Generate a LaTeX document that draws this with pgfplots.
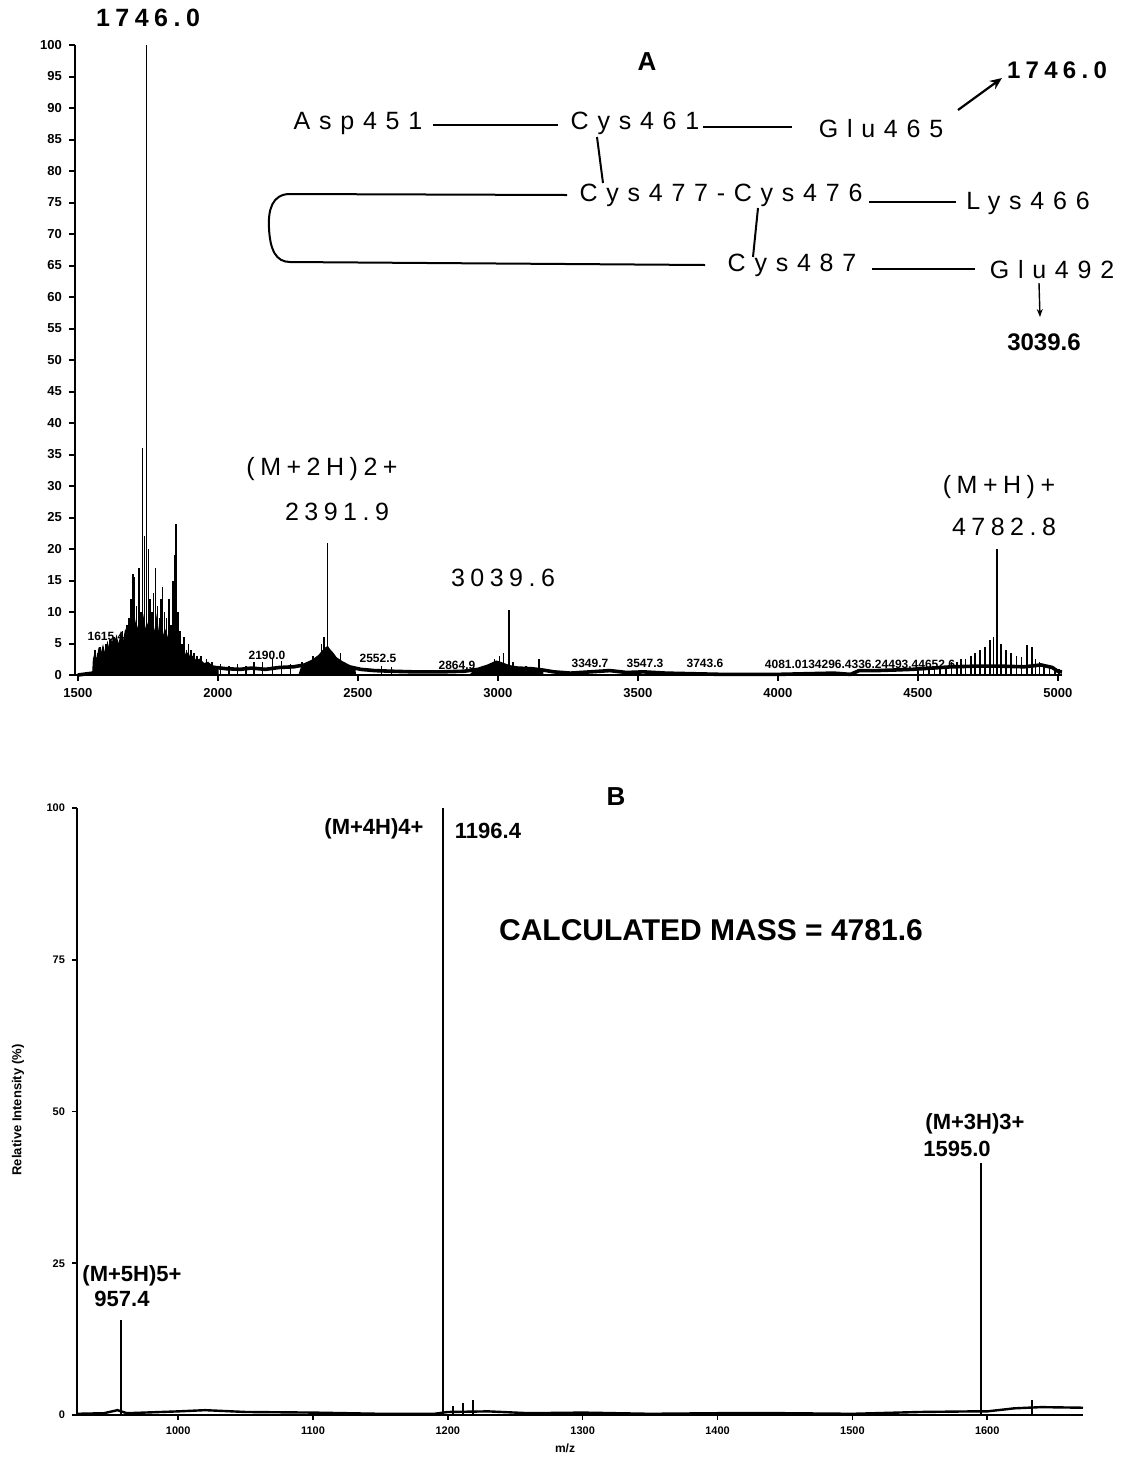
\documentclass[border=0pt]{standalone}
\usepackage{fontspec}
\setmainfont{Liberation Sans}
\newfontfamily\spaced[LetterSpace=35]{Liberation Sans}
\newfontfamily\spacedm[LetterSpace=22]{Liberation Sans}
\usepackage{pgfplots}
\pgfplotsset{compat=1.18}
\usetikzlibrary{arrows.meta}

\begin{document}
\begin{tikzpicture}
\useasboundingbox (0pt,0pt) rectangle (561.5pt,-729pt);

% ---------------- Panel A ----------------
\begin{axis}[
  at={(37.5pt,-337.5pt)}, anchor=south west,
  scale only axis, width=493.5pt, height=315pt,
  xmin=1490, xmax=5015, ymin=0, ymax=100,
  axis x line=bottom, axis y line=left,
  axis line style={-, line width=1.4pt},
  xtick={1500,2000,...,5000}, ytick={0,5,...,100},
  tick align=outside, major tick length=3pt,
  tick style={line width=1pt, black},
  ticklabel style={font=\fontsize{6.5}{7}\selectfont\bfseries},
  /pgf/number format/assume math mode=true,
  /pgf/number format/1000 sep={},
  clip=false,
]
\addplot[fill=black, draw=black, line width=0.6pt] coordinates {
(1553,0) (1556,2.5) (1562,3.5) (1568,2) (1575,4) (1582,3) (1590,4.5) (1598,3)
(1606,5) (1614,3.5) (1622,5.5) (1630,4) (1638,6) (1646,4.5) (1654,6.5) (1662,5)
(1670,7) (1678,6) (1686,8) (1694,6) (1702,9) (1710,7) (1718,8) (1726,6) (1734,9)
(1742,7) (1750,8) (1758,6) (1766,8) (1774,6.5) (1782,9) (1790,6) (1798,8) (1806,6)
(1814,7) (1822,5.5) (1830,7) (1838,6) (1846,8) (1854,5) (1862,4.5) (1870,3.5)
(1878,4) (1886,3) (1894,3.5) (1902,2.5) (1912,3) (1922,2.2) (1935,2.5) (1950,1.8)
(1965,2) (1980,1.4) (2000,1.2) (2001,0)
} \closedcycle;
\addplot[fill=black, draw=black, line width=0.6pt] coordinates {
(2290,0) (2300,1.4) (2320,1.8) (2340,2.3) (2355,2.8) (2365,3.3) (2375,3.8) (2385,4.3)
(2392,4.5) (2400,4) (2410,3.4) (2420,2.8) (2435,2.2) (2450,1.7) (2470,1.3) (2490,1) (2491,0)
} \closedcycle;
\addplot[fill=black, draw=black, line width=0.6pt] coordinates {
(2900,0) (2920,0.8) (2945,1.1) (2965,1.5) (2985,1.9) (3000,2.1) (3015,1.8) (3035,1.4)
(3060,1.2) (3090,1.1) (3130,1) (3160,0.8) (3161,0)
} \closedcycle;
\addplot[black, line width=1.8pt, mark=none] coordinates {
(1500,0) (1553,0.3) (1600,1.5) (1800,2) (1950,1.5) (1990,1.2) (2030,1) (2080,0.9)
(2120,1.1) (2170,0.9) (2220,1.2) (2270,1.3) (2310,1.6) (2340,2.2) (2365,3) (2380,3.8)
(2392,4) (2405,3.5) (2420,2.6) (2440,2) (2470,1.3) (2510,0.9) (2560,0.7) (2620,0.6)
(2700,0.5) (2800,0.5) (2880,0.6) (2930,0.9) (2965,1.4) (2995,2) (3010,1.8) (3040,1.3)
(3070,1.1) (3120,1) (3160,0.8) (3200,0.5) (3260,0.3) (3330,0.5) (3400,0.7) (3460,0.4)
(3520,0.5) (3600,0.3) (3700,0.2) (3800,0.1) (3900,0.1) (4000,0.1) (4100,0.2) (4200,0.3)
(4260,0.1) (4290,0.7) (4350,0.7) (4420,0.8) (4480,0.9) (4550,1.1) (4620,1.3) (4700,1.4)
(4800,1.4) (4880,1.3) (4940,1.6) (4980,1.2) (5000,0.6) (5015,0.5)
};
\addplot[ycomb, black, line width=0.8pt, mark=none] coordinates {
(1562,4) (1570,3.5) (1580,4.5) (1590,3.5) (1600,5) (1608,4) (1615,5.5) (1622,4)
(1630,6) (1638,5) (1645,4) (1652,6) (1660,7) (1668,6) (1675,8) (1683,9) (1690,12)
(1697,16) (1703,15.5) (1710,11) (1718,17) (1725,10) (1731,36) (1738,22) (1746,100)
(1752,20) (1758,12) (1765,10) (1771,13) (1778,17) (1785,11) (1792,9) (1798,12)
(1803,14) (1810,10) (1817,9) (1825,12) (1832,8) (1840,15) (1846,19) (1851,24)
(1858,10) (1865,7) (1872,5) (1880,6) (1888,4) (1895,5) (1905,4) (1915,3.5) (1925,3)
(1940,3) (1960,2.5) (1980,2) (2010,1.8) (2040,1.5) (2070,1.8) (2100,1.5) (2130,2)
(2160,2) (2196,2.5) (2228,2.3) (2260,1.8) (2300,2) (2340,3) (2370,5) (2380,6)
(2391.9,21) (2400,4) (2415,3) (2438,3.5) (2470,1.5) (2585,1.5) (2620,1.3)
(2988,2.5) (3006,3) (3020,3.5) (3039.6,10.3) (3055,2) (3100,1.5) (3148,2.5)
(4500,0.8) (4520,1) (4540,1) (4560,1.2) (4580,1.2) (4600,1.5) (4620,2) (4640,2)
(4655,2.5) (4670,2.5) (4690,3) (4705,3.5) (4722,4) (4740,4.5) (4757,5.5) (4770,6)
(4782.8,20) (4798,5) (4815,4) (4832,3.5) (4853,3) (4870,2.8) (4890,4.7) (4907,4.5)
(4920,2.5) (4935,2) (4950,1.5) (4970,1.2) (4990,1) (5005,1)
};
\end{axis}

% ---------------- Panel B ----------------
\begin{axis}[
  at={(38.5pt,-707.5pt)}, anchor=south west,
  scale only axis, width=503pt, height=303.5pt,
  xmin=925, xmax=1671, ymin=0, ymax=100,
  axis x line=bottom, axis y line=left,
  axis line style={-, line width=1.3pt},
  xtick={1000,1100,...,1600}, ytick={0,25,50,75,100},
  tick align=outside, major tick length=2.5pt,
  tick style={line width=0.8pt, black},
  ticklabel style={font=\fontsize{5.5}{6}\selectfont\bfseries},
  /pgf/number format/assume math mode=true,
  /pgf/number format/1000 sep={},
  clip=false,
]
\addplot[black, line width=1.2pt, mark=none] coordinates {
(925,0.2) (945,0.3) (955,0.8) (962,0.3) (1000,0.6) (1020,0.8) (1050,0.5) (1100,0.4)
(1150,0.2) (1190,0.2) (1200,0.5) (1230,0.6) (1260,0.3) (1300,0.4) (1350,0.2)
(1400,0.3) (1450,0.3) (1500,0.2) (1550,0.5) (1590,0.6) (1600,0.6) (1620,1.1)
(1640,1.3) (1671,1.2)
};
\addplot[ycomb, black, line width=1pt, mark=none] coordinates {
(957.4,15.7) (1196.4,100) (1204,1.5) (1211,2) (1219,2.5) (1595.0,41.5) (1633,2.5)
};
\end{axis}

% ---------------- Annotations (pixel coordinates) ----------------
\begin{scope}[x=0.5pt, y=-0.5pt]
% Panel A labels
\node[font=\spacedm\bfseries\fontsize{12.5}{14}\selectfont] at (148,18) {1746.0};
\node[font=\bfseries\fontsize{13}{15}\selectfont] at (647,62) {A};
\node[font=\spaced\fontsize{12.5}{14}\selectfont] at (358,123) {Asp451};
\node[font=\spaced\fontsize{12.5}{14}\selectfont] at (635,123) {Cys461};
\node[font=\spaced\fontsize{12.5}{14}\selectfont] at (881,129) {Glu465};
\draw[line width=1pt] (433,125) -- (558,125);
\draw[line width=1pt] (703,127) -- (792,127);
\draw[line width=1.1pt, -{Stealth[length=6pt,width=5pt]}] (958,110) -- (1002,78);
\node[font=\spacedm\bfseries\fontsize{12}{14}\selectfont] at (1057,70) {1746.0};
\draw[line width=1pt] (597,137) -- (603,183);
\draw[line width=1pt] (567,195) -- (290,194) .. controls (272,194) and (268,210) .. (269,228)
      .. controls (270,250) and (276,262) .. (290,262) -- (705,265);
\node[font=\spaced\fontsize{12.5}{14}\selectfont] at (721,195) {Cys477-Cys476};
\draw[line width=1pt] (869,202) -- (956,202);
\node[font=\spaced\fontsize{12.5}{14}\selectfont] at (1028,203) {Lys466};
\draw[line width=1pt] (758,208) -- (753,257);
\node[font=\spaced\fontsize{12.5}{14}\selectfont] at (792,265) {Cys487};
\draw[line width=1pt] (872,269) -- (975,269);
\node[font=\spaced\fontsize{12.5}{14}\selectfont] at (1052,270) {Glu492};
\draw[line width=0.7pt, -{Stealth[length=4pt,width=3pt]}] (1039,283) -- (1040,317);
\node[font=\bfseries\fontsize{12}{14}\selectfont] at (1044,342) {3039.6};
\node[font=\spacedm\fontsize{12.5}{14}\selectfont] at (322,469) {(M+2H)2+};
\node[font=\spacedm\fontsize{12.5}{14}\selectfont] at (337,512) {2391.9};
\node[font=\spacedm\fontsize{12.5}{14}\selectfont] at (503,578) {3039.6};
\node[font=\spacedm\fontsize{12.5}{14}\selectfont] at (999,487) {(M+H)+};
\node[font=\spacedm\fontsize{12.5}{14}\selectfont] at (1004,527) {4782.8};
% instrument peak labels
\begin{scope}[every node/.style={font=\bfseries\fontsize{6}{7}\selectfont, inner sep=0pt}]
\node at (106,636) {1615.4};
\node at (267,655) {2190.0};
\node at (378,658) {2552.5};
\node at (457,665) {2864.9};
\node at (590,663) {3349.7};
\node at (645,663) {3547.3};
\node at (705,663) {3743.6};
\node at (860,664) {4081.0134296.4336.24493.44652.6};
\end{scope}
% Panel B labels
\node[font=\bfseries\fontsize{13}{15}\selectfont] at (616,797) {B};
\node[font=\bfseries\fontsize{11}{13}\selectfont] at (374,829) {(M+4H)4+};
\node[font=\bfseries\fontsize{11}{13}\selectfont] at (488,831) {1196.4};
\node[font=\bfseries\fontsize{15}{17}\selectfont] at (711,930) {CALCULATED MASS = 4781.6};
\node[font=\bfseries\fontsize{11}{13}\selectfont] at (975,1124) {(M+3H)3+};
\node[font=\bfseries\fontsize{11}{13}\selectfont] at (957,1149) {1595.0};
\node[font=\bfseries\fontsize{11}{13}\selectfont] at (132,1276) {(M+5H)5+};
\node[font=\bfseries\fontsize{11}{13}\selectfont] at (122,1299) {957.4};
\node[font=\bfseries\fontsize{6.5}{7}\selectfont, rotate=90] at (18,1110) {Relative Intensity (\%)};
\node[font=\bfseries\fontsize{6}{7}\selectfont] at (565,1448) {m/z};
\end{scope}
\end{tikzpicture}
\end{document}
